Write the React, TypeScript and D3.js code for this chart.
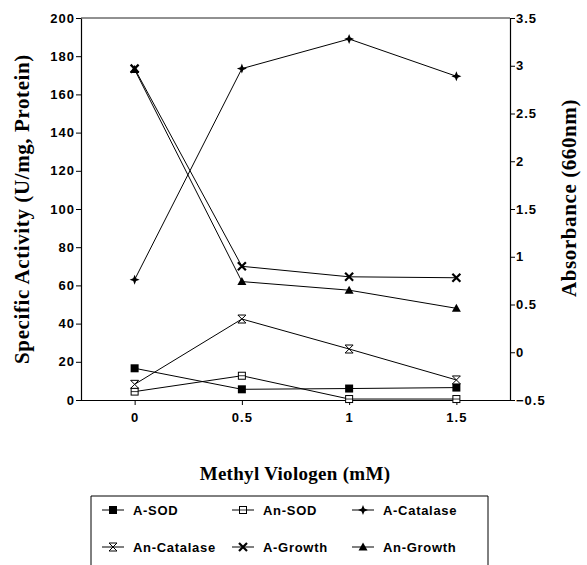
import React, { useEffect, useRef } from "react";
import * as d3 from "d3";

// categories on the x axis (mM methyl viologen)
const doses = ["0", "0.5", "1", "1.5"];

// left axis: specific activity (U/mg protein)
const aSod = [16.6, 5.6, 6, 6.5];
const anSod = [4.4, 12.7, 0.5, 0.5];
const aCatalase = [63, 173.5, 189, 169.5];
const anCatalase = [8.2, 42.4, 26.7, 10.5];

// right axis: absorbance (660nm)
const aGrowth = [2.97, 0.9, 0.79, 0.78];
const anGrowth = [2.96, 0.74, 0.65, 0.46];

const leftTicks = [0, 20, 40, 60, 80, 100, 120, 140, 160, 180, 200];
const rightTicks = [-0.5, 0, 0.5, 1, 1.5, 2, 2.5, 3, 3.5];

type Marker = "fsquare" | "osquare" | "star" | "hourglass" | "cross" | "triangle";

const series: { name: string; values: number[]; axis: "L" | "R"; marker: Marker }[] = [
  { name: "A-SOD", values: aSod, axis: "L", marker: "fsquare" },
  { name: "An-SOD", values: anSod, axis: "L", marker: "osquare" },
  { name: "A-Catalase", values: aCatalase, axis: "L", marker: "star" },
  { name: "An-Catalase", values: anCatalase, axis: "L", marker: "hourglass" },
  { name: "A-Growth", values: aGrowth, axis: "R", marker: "cross" },
  { name: "An-Growth", values: anGrowth, axis: "R", marker: "triangle" },
];

const tickFont = "'Liberation Sans', Arial, sans-serif";
const titleFont = "'Liberation Serif', 'Times New Roman', serif";

function drawMarker(g: any, kind: Marker, x: number, y: number) {
  const m = g.append("g").attr("transform", `translate(${x},${y})`);
  if (kind === "fsquare") {
    m.append("rect").attr("x", -4).attr("y", -4).attr("width", 8).attr("height", 8).attr("fill", "#000");
  } else if (kind === "osquare") {
    m.append("rect").attr("x", -3.5).attr("y", -3.5).attr("width", 7).attr("height", 7)
      .attr("fill", "#fff").attr("stroke", "#000").attr("stroke-width", 1);
    m.append("line").attr("x1", -3.5).attr("x2", 3.5).attr("y1", 0).attr("y2", 0).attr("stroke", "#000").attr("stroke-width", 0.8);
  } else if (kind === "star") {
    m.append("path").attr("d", "M0,-5 L1.4,-1.4 L5,0 L1.4,1.4 L0,5 L-1.4,1.4 L-5,0 L-1.4,-1.4 Z").attr("fill", "#000");
  } else if (kind === "hourglass") {
    m.append("path").attr("d", "M-4,-4 L4,-4 L0,0 Z M-4,4 L4,4 L0,0 Z")
      .attr("fill", "#fff").attr("stroke", "#000").attr("stroke-width", 1);
  } else if (kind === "cross") {
    m.append("path").attr("d", "M-4,-4 L4,4 M4,-4 L-4,4").attr("stroke", "#000").attr("stroke-width", 2.2);
  } else {
    m.append("path").attr("d", "M0,-4.5 L4.5,3.5 L-4.5,3.5 Z").attr("fill", "#000");
  }
}

const App = () => {
  const svgRef = useRef<SVGSVGElement>(null);

  useEffect(() => {
    const svg = d3.select(svgRef.current);
    svg.selectAll("*").remove();

    const left = 81, right = 510, top = 18, bottom = 400;

    const x = d3.scalePoint().domain(doses).range([left, right]).padding(0.5);
    const yL = d3.scaleLinear().domain([0, 200]).range([bottom, top]);
    const yR = d3.scaleLinear().domain([-0.5, 3.5]).range([bottom, top]);

    // frame top line
    svg.append("line").attr("x1", left).attr("x2", right).attr("y1", top).attr("y2", top)
      .attr("stroke", "#222").attr("stroke-width", 1);

    const styleAxis = (g: any) => {
      g.selectAll("path").attr("stroke", "#000").attr("stroke-width", 1.2);
      g.selectAll("line").attr("stroke", "#000");
      g.selectAll("text").style("font-family", tickFont).style("font-size", "13px")
        .style("font-weight", "bold").style("letter-spacing", "1px").attr("fill", "#000");
    };

    svg.append("g").attr("transform", `translate(${left},0)`)
      .call(d3.axisLeft(yL).tickValues(leftTicks).tickSize(5).tickSizeOuter(0).tickPadding(1))
      .call(styleAxis);

    svg.append("g").attr("transform", `translate(${right},0)`)
      .call(d3.axisRight(yR).tickValues(rightTicks).tickSize(5).tickSizeOuter(0).tickPadding(1).tickFormat(d3.format("")))
      .call(styleAxis);

    const xAxis = svg.append("g").attr("transform", `translate(0,${bottom})`)
      .call(d3.axisBottom(x).tickSize(5).tickSizeOuter(0).tickPadding(8))
      .call(styleAxis);
    xAxis.select(".domain").attr("d", `M${left},0.5H${right}`);

    // lines and markers
    series.forEach((s) => {
      const yS = s.axis === "L" ? yL : yR;
      const line = d3.line<number>().x((_, i) => x(doses[i]) as number).y((v) => yS(v));
      svg.append("path").datum(s.values).attr("d", line).attr("fill", "none")
        .attr("stroke", "#000").attr("stroke-width", 1);
      const mg = svg.append("g");
      s.values.forEach((v, i) => drawMarker(mg, s.marker, x(doses[i]) as number, yS(v)));
    });

    // axis titles
    svg.append("text").attr("transform", `translate(22,${(top + bottom) / 2}) rotate(-90)`)
      .attr("text-anchor", "middle").attr("dy", "0.35em")
      .style("font-family", titleFont).style("font-size", "21px").style("font-weight", "bold")
      .style("letter-spacing", "0.6px")
      .text("Specific Activity (U/mg, Protein)");

    svg.append("text").attr("transform", `translate(569,198) rotate(-90)`)
      .attr("text-anchor", "middle").attr("dy", "0.35em")
      .style("font-family", titleFont).style("font-size", "21px").style("font-weight", "bold")
      .style("letter-spacing", "0.6px")
      .text("Absorbance (660nm)");

    svg.append("text").attr("x", 295).attr("y", 480).attr("text-anchor", "middle")
      .style("font-family", titleFont).style("font-size", "19px").style("font-weight", "bold")
      .style("letter-spacing", "0.3px")
      .text("Methyl Viologen (mM)");

    // legend
    svg.append("path").attr("d", "M91,570 V496 H488 V570").attr("fill", "none")
      .attr("stroke", "#000").attr("stroke-width", 1);
    const cols = [113, 243, 363];
    const rows = [510, 547];
    series.forEach((s, i) => {
      const cx = cols[i % 3], cy = rows[Math.floor(i / 3)];
      svg.append("line").attr("x1", cx - 11).attr("x2", cx + 11).attr("y1", cy).attr("y2", cy)
        .attr("stroke", "#000").attr("stroke-width", 1);
      drawMarker(svg, s.marker, cx, cy);
      svg.append("text").attr("x", cx + 20).attr("y", cy).attr("dy", "0.35em")
        .style("font-family", tickFont).style("font-size", "13px").style("font-weight", "bold")
        .style("letter-spacing", "0.7px")
        .text(s.name);
    });
  }, []);

  return (
    <svg ref={svgRef} width={587} height={565}
      style={{ position: "absolute", left: 0, top: 0, background: "#fff" }} />
  );
};

export default App;
